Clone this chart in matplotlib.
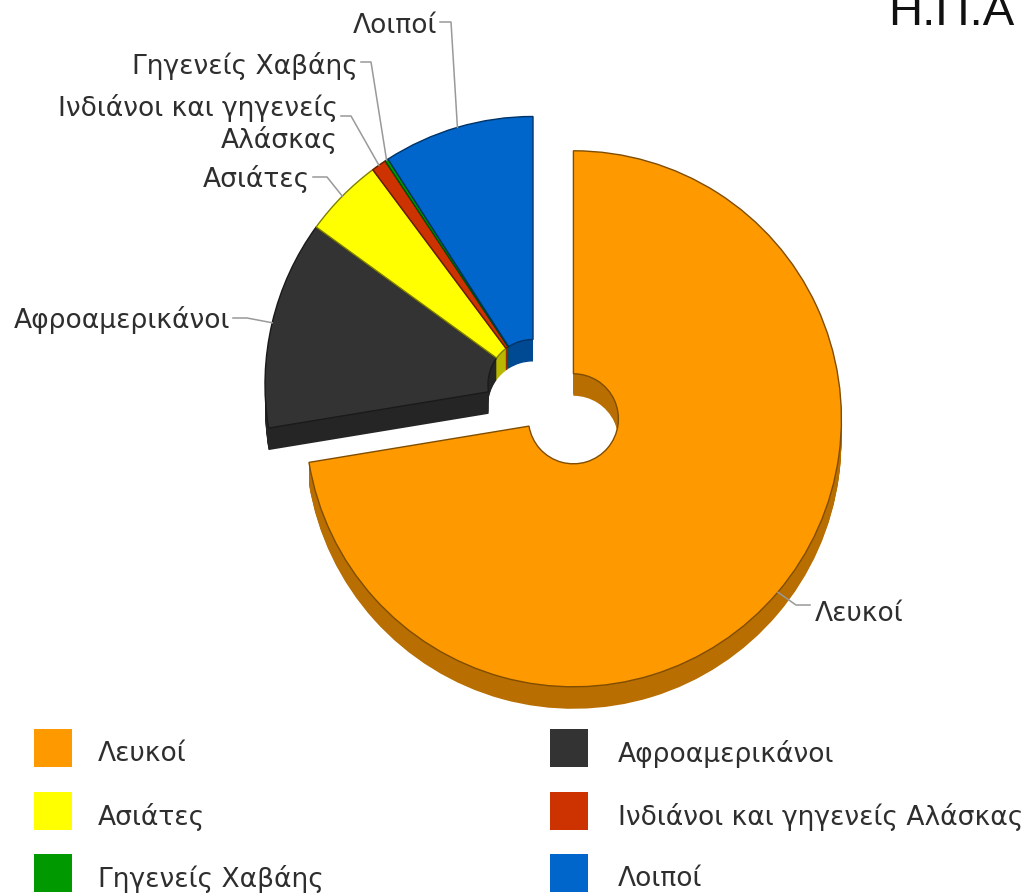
import numpy as np
import matplotlib
matplotlib.use('Agg')
import matplotlib.pyplot as plt
from matplotlib.patches import Rectangle
from matplotlib.colors import to_rgb

# Population shares (%)
categories = ['Λευκοί', 'Αφροαμερικάνοι', 'Ασιάτες', 'Ινδιάνοι και γηγενείς Αλάσκας', 'Γηγενείς Χαβάης', 'Λοιποί']
values = [72.4, 12.6, 4.8, 0.9, 0.2, 9.1]
colors = ['#FF9900', '#333333', '#FFFF00', '#CC3300', '#009900', '#0066CC']
chart_labels = ['Λευκοί', 'Αφροαμερικάνοι', 'Ασιάτες', 'Ινδιάνοι και γηγενείς\nΑλάσκας', 'Γηγενείς Χαβάης', 'Λοιποί']

W, H = 1031, 895
fig = plt.figure(figsize=(W / 100, H / 100), dpi=100)
ax = fig.add_axes([0, 0, 1, 1])


def py(y):
    # picture rows run downward, the axes upward
    return H - y


def shade(c, f):
    return tuple(v * f for v in to_rgb(c))


radius = 268
hole = 45
depth = 22
center = (533, py(385.5))
explode = [53, 0, 0, 0, 0, 0]

# side wall: stacked dark copies of the pie
for d in range(depth, 0, -1):
    ax.pie(values, colors=[shade(c, 0.72) for c in colors], radius=radius, center=(center[0], center[1] - d),
           explode=explode, startangle=90, counterclock=False,
           wedgeprops=dict(width=radius - hole, linewidth=0))

wedges, _ = ax.pie(values, colors=colors, radius=radius, center=center, explode=explode,
                   startangle=90, counterclock=False,
                   wedgeprops=dict(width=radius - hole, linewidth=1))
for w, c in zip(wedges, colors):
    w.set_edgecolor(shade(c, 0.5))

# label position (right or left end, row) and the elbow of its leader
label_pos = [(815, 614, 'left', (796, 606)),
             (230, 320, 'right', (247, 319)),
             (310, 179, 'right', (327, 178)),
             (338, 124, 'right', (351, 117)),
             (358, 66, 'right', (371, 63)),
             (437, 26, 'right', (451, 23))]

font_size = 19.1
text_color = '#2E2E2E'
for w, name, (x, y, ha, elbow) in zip(wedges, chart_labels, label_pos):
    mid = np.deg2rad((w.theta1 + w.theta2) / 2)
    tip = (w.center[0] + radius * np.cos(mid), w.center[1] + radius * np.sin(mid))
    start = x + 3 if ha == 'right' else x - 5
    ax.plot([start, elbow[0], tip[0]], [py(elbow[1]), py(elbow[1]), tip[1]], color='#999999', lw=1.1, zorder=1.5)
    ax.text(x, py(y), name, ha=ha, va='center', fontsize=font_size, color=text_color,
            linespacing=1.2, multialignment='right', family='DejaVu Sans')

# legend
legend_x = [34, 550]
legend_y = [749, 812, 874]
for i, (name, c) in enumerate(zip(categories, colors)):
    lx = legend_x[i % 2]
    ly = legend_y[i // 2]
    ax.add_patch(Rectangle((lx, py(ly + 19)), 38, 38, facecolor=c, edgecolor='none'))
    ax.text(lx + 64 + (4 if i % 2 else 0), py(ly + 5), name, ha='left', va='center', fontsize=font_size,
            color=text_color, family='DejaVu Sans')

ax.text(888, py(25), 'Η.Π.Α', ha='left', va='baseline', fontsize=34, color='#111111', family='Liberation Sans')

ax.set_xlim(0, W)
ax.set_ylim(0, H)
ax.set_aspect('auto')
ax.axis('off')

fig.savefig('out.png', dpi=100)
